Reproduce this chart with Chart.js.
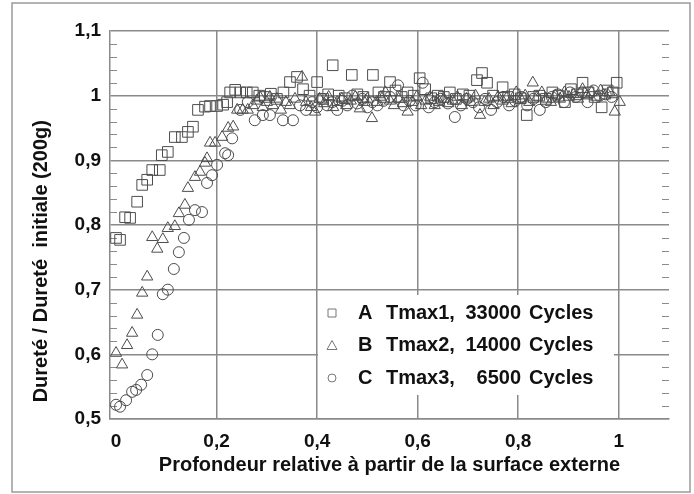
<!DOCTYPE html>
<html lang="fr">
<head>
  <meta charset="UTF-8">
  <title>Dureté relative</title>
  <script src="https://cdn.jsdelivr.net/npm/chart.js"></script>
  <style>
    body { margin: 0; background: #fff; }
  </style>
</head>
<body>
  <canvas id="hardChart" width="694" height="494"></canvas>

  <script>
    // series A : Tmax1, 33000 cycles (carrés)
    const aX = [0.000, 0.008, 0.018, 0.028, 0.042, 0.052, 0.062, 0.072, 0.087, 0.091, 0.103, 0.117, 0.131, 0.143, 0.153,
      0.163, 0.177, 0.187, 0.201, 0.213, 0.221, 0.227, 0.237, 0.247, 0.260, 0.272,
      0.285, 0.296, 0.308, 0.320, 0.333, 0.346, 0.360, 0.372, 0.385, 0.400, 0.412, 0.422, 0.431, 0.443, 0.455,
      0.469, 0.480, 0.492, 0.511, 0.522, 0.533, 0.545, 0.556, 0.568, 0.580, 0.592, 0.604, 0.615, 0.627, 0.640,
      0.652, 0.664, 0.676, 0.690, 0.703, 0.718, 0.728, 0.738, 0.750, 0.769, 0.780, 0.793, 0.805, 0.817, 0.830,
      0.842, 0.855, 0.868, 0.880, 0.893, 0.905, 0.917, 0.928, 0.940, 0.952, 0.966, 0.978, 0.988, 0.996];
    const aY = [0.780, 0.777, 0.812, 0.811, 0.836, 0.862, 0.870, 0.885, 0.885, 0.908, 0.913, 0.936, 0.936, 0.944, 0.952,
      0.978, 0.983, 0.984, 0.984, 0.986, 0.990, 1.005, 1.009, 1.005, 1.005, 1.005,
      1.000, 0.998, 1.003, 0.995, 1.005, 1.021, 1.029, 1.010, 1.000, 1.021, 0.995, 1.002, 1.047, 1.000, 0.996,
      1.032, 1.002, 0.998, 1.032, 1.005, 0.998, 1.021, 1.008, 0.998, 1.005, 1.000, 1.027, 1.010, 0.996, 1.000,
      0.998, 1.005, 0.995, 1.002, 1.000, 1.024, 1.035, 1.020, 1.000, 1.013, 0.998, 1.002, 0.996, 0.970, 0.998,
      1.000, 0.995, 1.005, 1.000, 0.990, 1.010, 1.002, 1.020, 1.005, 0.998, 0.982, 1.008, 1.005, 1.020];

    // series B : Tmax2, 14000 cycles (triangles)
    const bX = [0.000, 0.012, 0.022, 0.032, 0.042, 0.052, 0.062, 0.072, 0.082, 0.093, 0.103, 0.117, 0.125, 0.137, 0.143,
      0.157, 0.167, 0.177, 0.181, 0.187, 0.197, 0.211, 0.223, 0.233, 0.241, 0.252, 0.262, 0.286, 0.306,
      0.272, 0.280, 0.292, 0.300, 0.312, 0.320, 0.328, 0.338, 0.346, 0.356, 0.370, 0.378, 0.388, 0.396, 0.405,
      0.414, 0.423, 0.432, 0.440, 0.449, 0.458, 0.467, 0.476, 0.485, 0.494, 0.500, 0.509, 0.518, 0.527, 0.536,
      0.545, 0.553, 0.562, 0.571, 0.580, 0.589, 0.598, 0.607, 0.616, 0.625, 0.634, 0.643, 0.652, 0.661, 0.670,
      0.679, 0.688, 0.697, 0.706, 0.715, 0.724, 0.733, 0.742, 0.751, 0.760, 0.769, 0.778, 0.787, 0.796, 0.805,
      0.814, 0.822, 0.829, 0.838, 0.847, 0.856, 0.865, 0.874, 0.883, 0.892, 0.901, 0.910, 0.919, 0.928, 0.937,
      0.946, 0.955, 0.964, 0.973, 0.982, 0.992, 1.002];
    const bY = [0.602, 0.584, 0.614, 0.633, 0.661, 0.695, 0.720, 0.781, 0.763, 0.778, 0.795, 0.798, 0.818, 0.831, 0.857,
      0.874, 0.882, 0.896, 0.903, 0.927, 0.927, 0.936, 0.950, 0.952, 0.978, 0.978, 0.978, 0.998, 0.998,
      0.985, 0.992, 0.982, 0.990, 0.985, 0.995, 0.978, 0.990, 0.985, 0.995, 1.029, 0.990, 0.982, 0.975, 0.995,
      0.988, 0.998, 0.982, 0.990, 0.995, 0.985, 0.992, 0.998, 0.980, 0.990, 0.995, 0.965, 0.990, 0.998, 1.005,
      0.992, 0.985, 0.995, 0.988, 0.975, 0.990, 0.998, 0.985, 0.992, 0.998, 0.985, 0.990, 0.995, 0.988, 0.992,
      0.998, 0.985, 0.995, 0.990, 1.000, 0.970, 0.990, 0.995, 0.985, 0.998, 0.992, 0.998, 0.988, 1.005, 0.995,
      1.000, 0.990, 1.020, 0.998, 1.005, 0.995, 0.990, 1.000, 0.995, 1.005, 0.998, 1.002, 0.995, 1.010, 1.000,
      1.005, 0.998, 1.008, 1.000, 1.005, 0.975, 0.990];

    // series C : Tmax3, 6500 cycles (cercles)
    const cX = [0.000, 0.008, 0.020, 0.032, 0.040, 0.050, 0.062, 0.072, 0.083, 0.093, 0.103, 0.115, 0.125, 0.135, 0.145,
      0.157, 0.171, 0.181, 0.191, 0.201, 0.217, 0.223, 0.231, 0.247, 0.262, 0.276, 0.292, 0.306, 0.332, 0.352,
      0.366, 0.378, 0.390, 0.400, 0.410, 0.420, 0.430, 0.440, 0.450, 0.460, 0.470, 0.480, 0.490, 0.500, 0.510,
      0.520, 0.532, 0.545, 0.561, 0.572, 0.584, 0.596, 0.610, 0.622, 0.634, 0.646, 0.660, 0.674, 0.686, 0.698,
      0.710, 0.722, 0.734, 0.746, 0.758, 0.770, 0.782, 0.794, 0.806, 0.818, 0.830, 0.843, 0.855, 0.867, 0.879,
      0.891, 0.903, 0.915, 0.927, 0.938, 0.950, 0.962, 0.974, 0.986];
    const cY = [0.522, 0.519, 0.529, 0.542, 0.545, 0.553, 0.568, 0.600, 0.630, 0.693, 0.700, 0.732, 0.758, 0.780, 0.808,
      0.823, 0.820, 0.865, 0.877, 0.893, 0.911, 0.908, 0.934, 0.978, 0.990, 0.962, 0.970, 0.970, 0.962, 0.962,
      0.985, 0.978, 0.990, 0.982, 0.995, 0.985, 0.990, 0.978, 0.992, 0.985, 1.000, 0.988, 0.995, 0.982, 0.990,
      0.985, 0.992, 0.998, 1.016, 0.985, 0.992, 0.985, 1.020, 0.982, 0.990, 0.995, 0.988, 0.967, 0.985, 0.995,
      0.990, 0.982, 0.995, 0.978, 0.990, 0.998, 0.985, 0.992, 0.998, 0.985, 0.995, 0.978, 0.990, 0.998, 1.002,
      0.990, 1.005, 0.998, 1.005, 0.990, 1.008, 1.000, 1.002, 0.998];

    const seriesNames = ['A', 'B', 'C'];
    const seriesTemps = ['Tmax1,', 'Tmax2,', 'Tmax3,'];
    const seriesCycles = ['33000', '14000', '6500'];
    const xTitle = 'Profondeur relative à partir de la surface externe';
    const yTitle = '   Dureté / Dureté  initiale (200g)';

    const GRID = '#8a8a8a';
    const MARK = '#4d4d4d';
    const FONT = "'Liberation Sans', Arial, sans-serif";

    const pts = (xs, ys) => xs.map((x, i) => ({ x: x, y: ys[i] }));
    const comma = v => String(Number(v.toFixed(2))).replace('.', ',');

    // cadre, petites graduations et legende
    const decor = {
      id: 'decor',
      beforeDraw(chart) {
        const c = chart.ctx;
        c.save();
        c.fillStyle = '#fff';
        c.fillRect(0, 0, chart.width, chart.height);
        c.strokeStyle = '#9a9a9a';
        c.lineWidth = 1.5;
        c.strokeRect(12, 3, chart.width - 16, chart.height - 5);
        c.restore();
      },
      beforeDatasetsDraw(chart) {
        const c = chart.ctx, y = chart.scales.y, a = chart.chartArea;
        c.save();
        c.strokeStyle = GRID;
        c.lineWidth = 1;
        for (let i = 1; i < 30; i++) {
          if (i % 5 === 0) continue;
          const py = Math.round(y.getPixelForValue(0.5 + i * 0.02)) + 0.5;
          c.beginPath();
          c.moveTo(a.left, py); c.lineTo(a.left + 7, py);
          c.moveTo(a.right, py); c.lineTo(a.right - 7, py);
          c.stroke();
        }
        c.restore();
      },
      afterDatasetsDraw(chart) {
        const c = chart.ctx;
        const bx = 318, by = 295, bw = 296, bh = 100;
        c.save();
        c.fillStyle = '#fff';
        c.fillRect(bx, by, bw, bh);
        c.strokeStyle = '#777';
        c.lineWidth = 1;
        c.fillStyle = '#111';
        c.font = 'bold 20px ' + FONT;
        c.textBaseline = 'middle';
        for (let i = 0; i < 3; i++) {
          const ry = 313 + i * 32.5, sx = 332;
          c.beginPath();
          if (i === 0) c.rect(sx - 4, ry - 4, 8, 8);
          if (i === 1) { c.moveTo(sx, ry - 5); c.lineTo(sx + 5, ry + 4); c.lineTo(sx - 5, ry + 4); c.closePath(); }
          if (i === 2) c.arc(sx, ry, 4, 0, Math.PI * 2);
          c.stroke();
          c.textAlign = 'left';
          c.fillText(seriesNames[i], 358, ry);
          c.fillText(seriesTemps[i], 386, ry);
          c.textAlign = 'right';
          c.fillText(seriesCycles[i], 521, ry);
          c.textAlign = 'left';
          c.fillText('Cycles', 529, ry);
        }
        c.restore();
      }
    };

    const ds = (label, data, style, r) => ({
      label: label,
      data: data,
      showLine: false,
      pointStyle: style,
      pointRadius: r,
      pointBorderWidth: 1,
      pointBorderColor: MARK,
      pointBackgroundColor: 'rgba(0,0,0,0)'
    });

    new Chart(document.getElementById('hardChart'), {
      type: 'scatter',
      data: {
        datasets: [
          ds('C', pts(cX, cY), 'circle', 5.5),
          ds('B', pts(bX, bY), 'triangle', 6.5),
          ds('A', pts(aX, aY), 'rect', 7.5)
        ]
      },
      options: {
        responsive: false,
        animation: false,
        layout: { padding: { left: 0, top: 31, right: 25, bottom: 0 } },
        plugins: { legend: { display: false }, tooltip: { enabled: false } },
        scales: {
          x: {
            type: 'linear',
            min: -0.012,
            max: 1.1,
            afterFit(s) { s.height = 75; },
            border: { color: GRID, width: 1.5 },
            grid: {
              drawTicks: false,
              lineWidth: 1.5,
              color: ctx => (ctx.tick && ctx.tick.value > 0.1 ? GRID : 'rgba(0,0,0,0)')
            },
            ticks: {
              stepSize: 0.2,
              includeBounds: false,
              padding: 11,
              color: '#111',
              font: { family: FONT, size: 19, weight: 'bold' },
              callback: v => comma(v)
            },
            title: {
              display: true,
              text: xTitle,
              color: '#111',
              font: { family: FONT, size: 20, weight: 'bold' },
              padding: { top: 0, bottom: 17 }
            }
          },
          y: {
            min: 0.5,
            max: 1.1,
            afterFit(s) { s.width = 110; },
            border: { color: GRID, width: 1.5 },
            grid: { drawTicks: false, lineWidth: 1.5, color: GRID },
            ticks: {
              stepSize: 0.1,
              padding: 9,
              color: '#111',
              font: { family: FONT, size: 19, weight: 'bold' },
              callback: v => comma(v)
            },
            title: {
              display: true,
              text: yTitle,
              align: 'start',
              color: '#111',
              font: { family: FONT, size: 20, weight: 'bold' },
              padding: { top: 29, bottom: 0 }
            }
          }
        }
      },
      plugins: [decor]
    });
  </script>
</body>
</html>
